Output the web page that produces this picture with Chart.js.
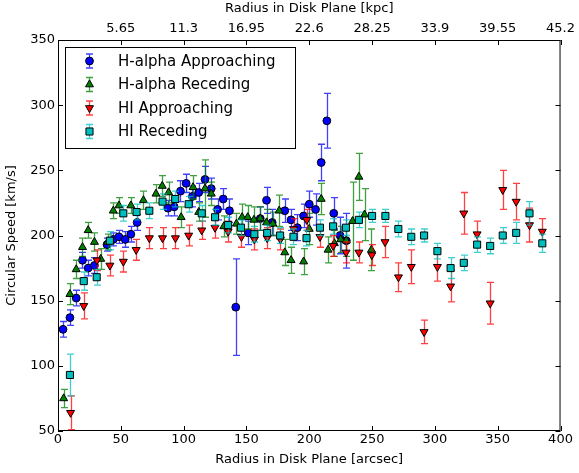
<!DOCTYPE html>
<html>
<head>
<meta charset="utf-8">
<script src="https://cdn.jsdelivr.net/npm/chart.js@4.4.0/dist/chart.umd.min.js"></script>
<style>
  body { margin: 0; background: #fff; }
  canvas { display: block; }
</style>
</head>
<body>
<canvas id="rotChart" width="579" height="473"></canvas>
<script>
// Rotation curve data (radius in arcsec, speed in km/s)
const haAppX = [4, 9.5, 14.5, 19.5, 24, 29, 39, 44, 48.5, 53.5, 58, 63, 87.5, 92.5, 97.5, 102, 107, 112, 117, 122, 127, 131.5, 136.5, 141.5, 151.5, 161, 166, 170.5, 180.5, 185.5, 190.5, 195.5, 200, 205, 209.5, 214, 219.5, 224.5, 229.5];
const haAppY = [128, 137, 152, 181, 175, 177, 193, 197, 199, 197, 201, 210, 221, 222, 234, 240, 230, 233, 243, 236, 220, 228, 219, 145, 202, 213, 227, 210, 219, 212, 206, 215, 224, 220, 256, 288, 217, 200, 196];
const haAppErr = [6, 6, 6, 6, 6, 6, 5, 5, 5, 6, 6, 6, 6, 7, 8, 7, 8, 7, 10, 8, 8, 8, 9, 37, 9, 9, 10, 10, 9, 8, 10, 9, 10, 12, 14, 21, 12, 14, 21];

const haRecX = [4.5, 9.5, 14.5, 19.5, 24, 29, 34, 39.5, 44, 48.5, 58, 68, 78, 83, 88, 98, 107.5, 112, 117, 122, 132, 142, 146.5, 151, 156, 161, 166, 171, 176, 180.5, 185.5, 195.5, 200, 209.5, 215, 220, 225, 229.5, 234.5, 239.5, 244, 249.5];
const haRecY = [75, 155, 174, 191, 204, 195, 182, 195, 219, 223, 223, 227, 232, 238, 233, 214, 237, 218, 236, 232, 207, 209, 214, 214, 212, 213, 210, 209, 219, 187, 181, 180, 205, 228, 189, 194, 197, 196, 211, 245, 216, 189];
const haRecErr = [7, 8, 7, 7, 6, 7, 8, 6, 6, 6, 6, 7, 7, 8, 8, 8, 9, 7, 22, 9, 8, 8, 10, 9, 10, 9, 10, 9, 12, 10, 10, 10, 12, 12, 10, 10, 10, 12, 30, 18, 20, 16];

const hiAppX = [10, 20.5, 31, 41.3, 52, 62.2, 72.7, 83.2, 93.5, 104, 114.4, 125, 135.4, 146, 156.3, 166.5, 177, 187.5, 198, 208.5, 219, 229.3, 239.5, 249.8, 260.3, 271, 281.2, 291.4, 302, 312.5, 323, 333.6, 344, 354, 364.7, 375.3, 385.5];
const hiAppY = [64, 146, 181, 177, 180, 189, 198, 198, 198, 200, 204, 206, 203, 199, 197, 198, 197, 205, 212, 199, 192, 187, 187, 185, 195, 168, 176, 126, 176, 161, 217, 201, 148, 235, 226, 208, 203];
const hiAppErr = [13, 10, 8, 8, 8, 8, 8, 8, 8, 8, 7, 8, 8, 8, 8, 8, 8, 8, 8, 8, 8, 8, 8, 8, 12, 11, 13, 9, 11, 12, 16, 10, 16, 15, 14, 13, 10];

const hiRecX = [9.5, 20.5, 30.8, 41.3, 52, 62.5, 72.7, 83.2, 93.3, 104, 114.4, 125, 135.4, 145.7, 156.3, 166.5, 176.8, 187.4, 197.8, 208.5, 219, 229.2, 239.5, 250, 260.6, 270.9, 281.2, 291.4, 302, 312.5, 323, 333.6, 344, 354, 364.7, 375.3, 385.5];
const hiRecY = [93, 165, 168, 196, 217, 218, 219, 226, 228, 224, 217, 214, 208, 206, 201, 202, 200, 199, 198, 206, 207, 206, 212, 215, 215, 205, 199, 200, 188, 175, 179, 193, 192, 200, 202, 217, 194];
const hiRecErr = [16, 7, 6, 7, 6, 6, 6, 6, 6, 6, 6, 6, 6, 6, 6, 6, 6, 6, 6, 6, 6, 6, 6, 5, 5, 6, 6, 5, 6, 8, 6, 6, 6, 6, 8, 9, 7];

// top axis labels (kpc) for the arcsec ticks 50..400
const arcsecTicks = [50, 100, 150, 200, 250, 300, 350, 400];
const kpcLabels = ['5.65', '11.3', '16.95', '22.6', '28.25', '33.9', '39.55', '45.2'];

const toPoints = (xs, ys) => xs.map((x, i) => ({ x: x, y: ys[i] }));

Chart.defaults.font.family = 'DejaVu Sans';
Chart.defaults.font.size = 13;
Chart.defaults.color = '#000';

// error bars, drawn under each series' markers
const errorBars = {
  id: 'errorBars',
  beforeDatasetDraw(chart, args) {
    const ds = chart.data.datasets[args.index];
    const { ctx, chartArea } = chart;
    const xs = chart.scales.x, ys = chart.scales.y;
    ctx.save();
    ctx.beginPath();
    ctx.rect(chartArea.left, chartArea.top, chartArea.right - chartArea.left, chartArea.bottom - chartArea.top);
    ctx.clip();
    ctx.strokeStyle = ds.errColor;
    ctx.lineWidth = 1.3;
    ds.data.forEach((p, i) => {
      const e = ds.errors[i];
      const px = Math.round(xs.getPixelForValue(p.x)) + 0.5;
      const top = ys.getPixelForValue(p.y + e);
      const bot = ys.getPixelForValue(p.y - e);
      ctx.beginPath();
      ctx.moveTo(px, top); ctx.lineTo(px, bot);
      ctx.moveTo(px - 3.5, top); ctx.lineTo(px + 3.5, top);
      ctx.moveTo(px - 3.5, bot); ctx.lineTo(px + 3.5, bot);
      ctx.stroke();
    });
    ctx.restore();
  }
};

// frame, inward ticks and the legend box
const frameAndLegend = {
  id: 'frameAndLegend',
  afterDraw(chart) {
    const { ctx, chartArea: a } = chart;
    const xs = chart.scales.x, ys = chart.scales.y;
    ctx.save();
    ctx.strokeStyle = '#000';
    ctx.lineWidth = 1;
    ctx.strokeRect(a.left + 0.5, a.top + 0.5, a.right - a.left - 1, a.bottom - a.top - 1);
    ctx.beginPath();
    for (let v = 0; v <= 400; v += 50) {
      const px = Math.round(xs.getPixelForValue(v)) + 0.5;
      ctx.moveTo(px, a.bottom); ctx.lineTo(px, a.bottom - 5);
      ctx.moveTo(px, a.top); ctx.lineTo(px, a.top + 5);
    }
    for (let v = 50; v <= 350; v += 50) {
      const py = Math.round(ys.getPixelForValue(v)) + 0.5;
      ctx.moveTo(a.left, py); ctx.lineTo(a.left + 5, py);
      ctx.moveTo(a.right, py); ctx.lineTo(a.right - 5, py);
    }
    ctx.stroke();

    // legend
    const bx = 65.5, by = 47.5, bw = 230, bh = 101;
    ctx.fillStyle = '#fff';
    ctx.fillRect(bx, by, bw, bh);
    ctx.strokeRect(bx, by, bw, bh);
    ctx.font = '15px "DejaVu Sans"';
    ctx.textBaseline = 'middle';
    chart.data.datasets.forEach((ds, i) => {
      const cy = 61 + i * 23.5;
      const cx = 89.5;
      ctx.strokeStyle = ds.errColor;
      ctx.lineWidth = 1.3;
      ctx.beginPath();
      ctx.moveTo(cx, cy - 7); ctx.lineTo(cx, cy + 7);
      ctx.moveTo(cx - 3.5, cy - 7); ctx.lineTo(cx + 3.5, cy - 7);
      ctx.moveTo(cx - 3.5, cy + 7); ctx.lineTo(cx + 3.5, cy + 7);
      ctx.stroke();
      ctx.fillStyle = ds.backgroundColor;
      ctx.strokeStyle = '#000';
      ctx.lineWidth = 1;
      Chart.helpers.drawPoint(ctx, {
        pointStyle: ds.pointStyle, radius: ds.pointRadius,
        rotation: ds.rotation || 0, borderWidth: 1
      }, cx, cy);
      ctx.fillStyle = '#000';
      ctx.fillText(ds.label, 118, cy + 1);
    });
    ctx.restore();
  }
};

const ctx = document.getElementById('rotChart').getContext('2d');
const rotChart = new Chart(ctx, {
  type: 'scatter',
  data: {
    datasets: [{
      label: 'H-alpha Approaching',
      data: toPoints(haAppX, haAppY),
      errors: haAppErr,
      errColor: 'rgba(0, 0, 255, 0.75)',
      backgroundColor: '#0000ff',
      borderColor: '#000',
      borderWidth: 1,
      pointStyle: 'circle',
      pointRadius: 3.9,
      order: 4
    }, {
      label: 'H-alpha Receding',
      data: toPoints(haRecX, haRecY),
      errors: haRecErr,
      errColor: 'rgba(0, 128, 0, 0.75)',
      backgroundColor: '#008000',
      borderColor: '#000',
      borderWidth: 1,
      pointStyle: 'triangle',
      pointRadius: 4.6,
      order: 3
    }, {
      label: 'HI Approaching',
      data: toPoints(hiAppX, hiAppY),
      errors: hiAppErr,
      errColor: 'rgba(255, 0, 0, 0.75)',
      backgroundColor: '#ff0000',
      borderColor: '#000',
      borderWidth: 1,
      pointStyle: 'triangle',
      rotation: 180,
      pointRotation: 180,
      pointRadius: 4.6,
      order: 2
    }, {
      label: 'HI Receding',
      data: toPoints(hiRecX, hiRecY),
      errors: hiRecErr,
      errColor: 'rgba(0, 191, 191, 0.75)',
      backgroundColor: '#00bfbf',
      borderColor: '#000',
      borderWidth: 1,
      pointStyle: 'rect',
      pointRadius: 5,
      order: 1
    }]
  },
  options: {
    responsive: false,
    animation: false,
    layout: { padding: 0 },
    plugins: {
      legend: { display: false },
      tooltip: { enabled: false }
    },
    scales: {
      x: {
        type: 'linear', position: 'bottom', min: 0, max: 400,
        grid: { display: false, drawTicks: false },
        border: { display: false },
        ticks: { stepSize: 50, padding: 1, maxRotation: 0, autoSkip: false },
        title: { display: true, text: 'Radius in Disk Plane [arcsec]', padding: { top: 0, bottom: 6 } },
        afterFit(s) { s.height = 42; }
      },
      x2: {
        type: 'linear', position: 'top', min: 0, max: 400,
        grid: { display: false, drawTicks: false },
        border: { display: false },
        afterBuildTicks(s) { s.ticks = arcsecTicks.map(v => ({ value: v })); },
        ticks: {
          padding: 4, maxRotation: 0, autoSkip: false,
          callback: (v) => kpcLabels[arcsecTicks.indexOf(v)]
        },
        title: { display: true, text: 'Radius in Disk Plane [kpc]', padding: { top: 1, bottom: 0 } },
        afterFit(s) { s.height = 40; }
      },
      y: {
        type: 'linear', position: 'left', min: 50, max: 350,
        grid: { display: false, drawTicks: false },
        border: { display: false },
        ticks: { stepSize: 50, padding: 3 },
        title: { display: true, text: 'Circular Speed [km/s]', padding: { top: 4, bottom: 0 } },
        afterFit(s) { s.width = 58; }
      },
      y2: {
        type: 'linear', position: 'right', min: 50, max: 350,
        grid: { display: false, drawTicks: false },
        border: { display: false },
        ticks: { display: false },
        afterFit(s) { s.width = 16; }
      }
    }
  },
  plugins: [errorBars, frameAndLegend]
});
</script>
</body>
</html>
